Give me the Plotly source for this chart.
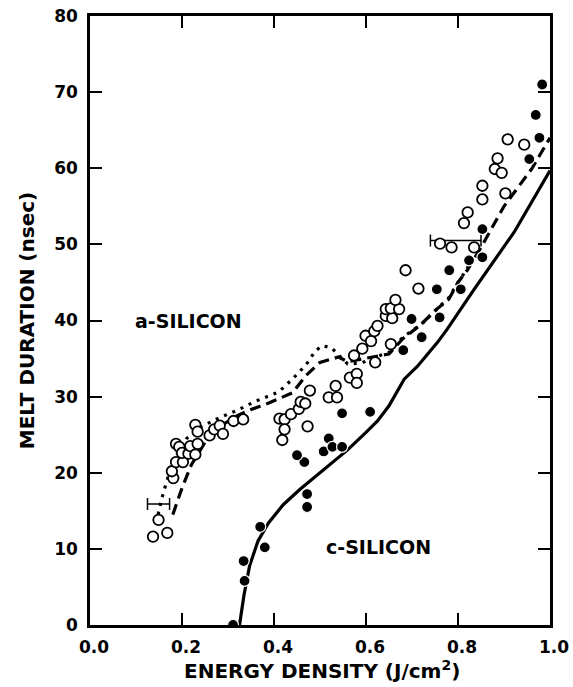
import plotly.graph_objects as go

# ---- data ----
a_si_x = [0.137, 0.168, 0.149, 0.181, 0.178, 0.187, 0.202, 0.187, 0.194, 0.200, 0.214, 0.218,
          0.229, 0.234, 0.229, 0.234, 0.260, 0.270, 0.282, 0.289, 0.312, 0.333,
          0.412, 0.423, 0.437, 0.454, 0.458, 0.468, 0.478, 0.423, 0.418, 0.473,
          0.519, 0.537, 0.534, 0.565, 0.580, 0.580, 0.574, 0.592, 0.620, 0.599, 0.611, 0.618,
          0.625, 0.643, 0.657, 0.643, 0.654, 0.672, 0.664, 0.654, 0.686, 0.714,
          0.761, 0.786, 0.835, 0.813, 0.821, 0.853, 0.853, 0.903, 0.880, 0.895, 0.886, 0.908, 0.944]
a_si_y = [11.6, 12.1, 13.8, 19.3, 20.2, 21.4, 21.4, 23.8, 23.4, 22.6, 22.5, 23.5,
          22.4, 23.8, 26.3, 25.4, 24.9, 25.7, 26.2, 25.1, 26.8, 27.0,
          27.1, 27.0, 27.7, 28.4, 29.3, 29.1, 30.8, 25.7, 24.3, 26.1,
          29.9, 29.9, 31.4, 32.5, 33.0, 31.8, 35.4, 36.3, 34.5, 38.0, 37.3, 38.6,
          39.3, 40.6, 40.3, 41.5, 41.6, 41.5, 42.7, 36.9, 46.6, 44.2,
          50.1, 49.6, 49.6, 52.8, 54.2, 55.9, 57.7, 56.7, 59.9, 59.4, 61.3, 63.8, 63.1]

c_si_x = [0.311, 0.336, 0.334, 0.380, 0.370, 0.472, 0.472, 0.466, 0.450, 0.508, 0.519, 0.527,
          0.548, 0.548, 0.609, 0.681, 0.699, 0.721, 0.760, 0.754, 0.781, 0.806, 0.824,
          0.853, 0.853, 0.955, 0.977, 0.969, 0.983]
c_si_y = [0.0, 5.8, 8.4, 10.2, 12.9, 17.2, 15.5, 21.4, 22.3, 22.8, 24.5, 23.4,
          23.4, 27.8, 28.0, 36.1, 40.2, 37.8, 40.4, 44.1, 46.6, 44.1, 47.9,
          48.3, 52.0, 61.2, 64.0, 67.0, 71.0]

# theory curves
solid_x = [0.325, 0.335, 0.347, 0.365, 0.388, 0.42, 0.456, 0.50, 0.56, 0.60, 0.625, 0.65,
           0.668, 0.683, 0.712, 0.755, 0.777, 0.835, 0.922, 1.0]
solid_y = [0.0, 4.0, 7.8, 11.0, 13.4, 15.8, 17.8, 20.0, 23.0, 25.3, 26.8, 28.8,
           30.6, 32.3, 34.0, 37.1, 38.9, 44.1, 51.6, 59.7]

dashed_x = [0.18, 0.20, 0.22, 0.25, 0.28, 0.32, 0.35, 0.39, 0.44, 0.47, 0.50, 0.54, 0.56,
            0.60, 0.65, 0.68, 0.72, 0.75, 0.78, 0.80, 0.82, 0.85, 0.90, 0.96, 1.0]
dashed_y = [14.5, 18.0, 21.0, 24.0, 26.0, 27.5, 28.3, 29.2, 30.5, 32.8, 34.5, 35.2, 34.6,
            35.0, 35.6, 37.6, 39.5, 41.3, 42.8, 45.0, 46.6, 49.6, 55.0, 59.9, 64.0]

dotted_x = [0.148, 0.155, 0.165, 0.175, 0.19, 0.21, 0.24, 0.28, 0.32, 0.36, 0.41, 0.44, 0.47,
            0.49, 0.505, 0.525, 0.545, 0.56, 0.59, 0.62, 0.65, 0.68, 0.72, 0.75, 0.78, 0.80,
            0.82, 0.84]
dotted_y = [14.5, 16.4, 18.5, 20.5, 22.5, 24.5, 26.0, 27.2, 28.2, 29.4, 30.6, 32.3, 34.2,
            36.0, 36.7, 36.4, 35.2, 34.3, 34.4, 35.2, 35.8, 37.8, 39.5, 41.2, 43.0, 45.0,
            46.8, 49.5]

err_x = [0.149, 0.795]
err_y = [15.9, 50.5]
err_dx = [0.024, 0.055]

x_ticks = [0.0, 0.2, 0.4, 0.6, 0.8, 1.0]
x_ticktext = ["0.0", "0.2", "0.4", "0.6", "0.8", "1.0"]
y_ticks = [0, 10, 20, 30, 40, 50, 60, 70, 80]

FONT = "DejaVu Sans"

fig = go.Figure()
fig.add_trace(go.Scatter(x=solid_x, y=solid_y, mode="lines",
                         line=dict(color="black", width=3.2)))
fig.add_trace(go.Scatter(x=dashed_x, y=dashed_y, mode="lines",
                         line=dict(color="black", width=3.2, dash="11px,6px")))
fig.add_trace(go.Scatter(x=dotted_x, y=dotted_y, mode="lines",
                         line=dict(color="black", width=3.2, dash="3px,6px")))
fig.add_trace(go.Scatter(x=err_x, y=err_y, mode="markers",
                         marker=dict(size=1, color="rgba(0,0,0,0)"),
                         error_x=dict(type="data", array=err_dx, symmetric=True,
                                      color="black", thickness=1.5, width=6)))
fig.add_trace(go.Scatter(x=a_si_x, y=a_si_y, mode="markers",
                         marker=dict(symbol="circle", size=10.5, color="white",
                                     line=dict(color="black", width=1.8))))
fig.add_trace(go.Scatter(x=c_si_x, y=c_si_y, mode="markers",
                         marker=dict(symbol="circle", size=11, color="black",
                                     line=dict(color="white", width=1.2))))

fig.add_annotation(x=0.214, y=40.0, xref="x", yref="y", text="a-SILICON", showarrow=False,
                   font=dict(family=FONT, size=19, color="black", weight="bold"))
fig.add_annotation(x=0.628, y=10.2, xref="x", yref="y", text="c-SILICON", showarrow=False,
                   font=dict(family=FONT, size=19, color="black", weight="bold"))
fig.add_annotation(x=0.505, y=-0.074, xref="paper", yref="paper",
                   text="ENERGY DENSITY (J/cm<sup>2</sup>)", showarrow=False,
                   xanchor="center", yanchor="middle",
                   font=dict(family=FONT, size=20, color="black", weight="bold"))

fig.update_layout(
    width=573, height=687,
    margin=dict(l=90, r=23, t=16, b=62, autoexpand=False),
    paper_bgcolor="white", plot_bgcolor="white",
    showlegend=False,
    font=dict(family=FONT, color="black"),
    xaxis=dict(range=[0, 1.0], tickvals=x_ticks, ticktext=x_ticktext,
               ticks="inside", ticklen=12, tickwidth=1.5, tickcolor="black",
               showline=True, linewidth=2.5, linecolor="black", mirror="ticks",
               showgrid=False, zeroline=False, automargin=False,
               tickfont=dict(family=FONT, size=17, weight="bold"),
               ticklabelstandoff=5, ticklabelshift=4),
    yaxis=dict(range=[0, 80], tickvals=y_ticks,
               ticks="inside", ticklen=12, tickwidth=1.5, tickcolor="black",
               showline=True, linewidth=2.5, linecolor="black", mirror="ticks",
               showgrid=False, zeroline=False, automargin=False,
               tickfont=dict(family=FONT, size=17, weight="bold"),
               ticklabelstandoff=6,
               title=dict(text="MELT DURATION (nsec)", standoff=15,
                          font=dict(family=FONT, size=20, weight="bold"))),
)

fig.write_html("out.html", config={"displayModeBar": False},
               post_script="document.body.style.margin='0';document.body.style.overflow='hidden';")
